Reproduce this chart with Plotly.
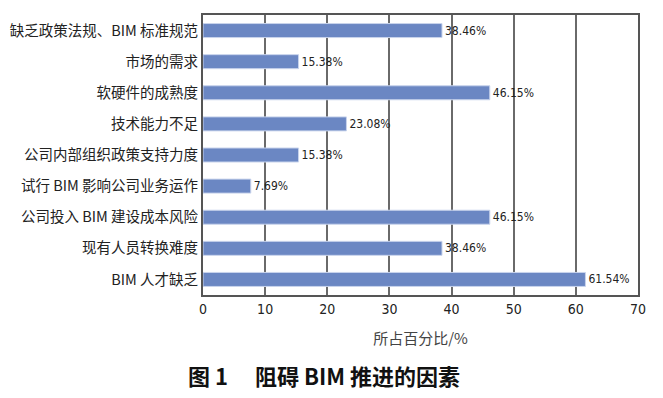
import plotly.graph_objects as go

categories = ["缺乏政策法规、BIM 标准规范", "市场的需求", "软硬件的成熟度", "技术能力不足",
              "公司内部组织政策支持力度", "试行 BIM 影响公司业务运作", "公司投入 BIM 建设成本风险",
              "现有人员转换难度", "BIM 人才缺乏"]
values = [38.46, 15.38, 46.15, 23.08, 15.38, 7.69, 46.15, 38.46, 61.54]
value_labels = ["38.46%", "15.38%", "46.15%", "23.08%", "15.38%", "7.69%", "46.15%", "38.46%", "61.54%"]
x_ticks = [0, 10, 20, 30, 40, 50, 60, 70]

cjk = "Noto Sans CJK SC"
narrow = "Liberation Sans Narrow, DejaVu Sans Condensed, Noto Sans CJK SC"

L, R, T, B = 203, 25, 15, 103
plot_w = 663 - L - R
plot_h = 398 - T - B

fig = go.Figure()
fig.add_trace(go.Bar(
    y=categories, x=values, orientation="h",
    marker=dict(color="#6b87c3", line=dict(color="#c9d4ec", width=1)),
    width=0.45,
    text=value_labels, textposition="outside",
    textfont=dict(family=narrow, size=12, color="#222"),
    cliponaxis=False,
))

fig.update_layout(
    width=663, height=398,
    margin=dict(l=L, r=R, t=T, b=B, autoexpand=False),
    paper_bgcolor="white", plot_bgcolor="white",
    showlegend=False,
    xaxis=dict(range=[0, 70], tickvals=x_ticks, ticktext=[str(t) for t in x_ticks],
               showgrid=True, gridcolor="#6a6a6a", gridwidth=2,
               showline=True, linecolor="#555", linewidth=2, mirror=True,
               zeroline=False, ticks="", ticklen=0, automargin=False,
               tickfont=dict(family=narrow, size=14, color="#222"),
               title=dict(text="所占百分比/%", font=dict(family=cjk, size=15, color="#444"), standoff=18)),
    yaxis=dict(autorange="reversed", showline=True, linecolor="#555", linewidth=2, mirror=True,
               showgrid=False, ticks="", ticklen=0, automargin=False,
               tickfont=dict(family=cjk, size=14.5, color="#222")),
    annotations=[dict(text="<b>图 1　 阻碍 BIM 推进的因素</b>", xref="paper", yref="paper",
                      x=(186 - L) / plot_w, y=-(357 - (398 - B)) / plot_h,
                      xanchor="left", yanchor="top",
                      showarrow=False, font=dict(family=cjk, size=22, color="#111"))],
)
fig.write_html("out.html", config={"displayModeBar": False},
               post_script="document.body.style.margin='0';document.body.style.overflow='hidden';")
